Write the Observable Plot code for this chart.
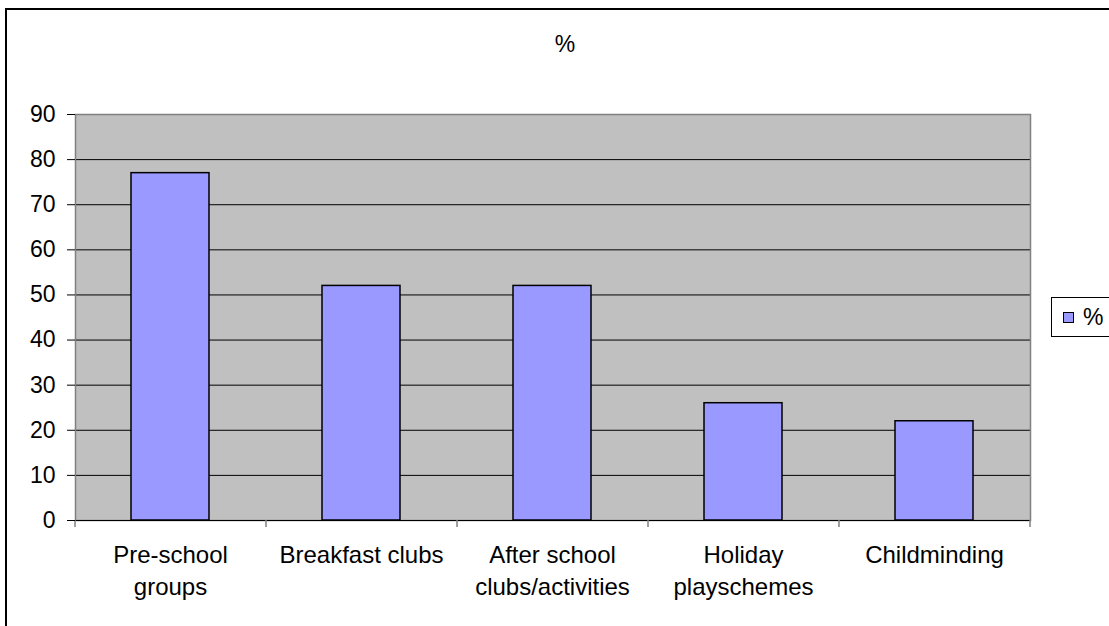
<!DOCTYPE html>
<html>
<head>
<meta charset="utf-8">
<script src="https://cdn.jsdelivr.net/npm/d3@7"></script>
<script src="https://cdn.jsdelivr.net/npm/@observablehq/plot@0.6"></script>
<style>
  html, body { margin: 0; padding: 0; background: #fff; }
  #wrap { position: relative; width: 1109px; height: 626px; overflow: hidden; font-family: "Liberation Sans", Arial, sans-serif; }
  #outer { position: absolute; left: 5px; top: 8px; width: 1200px; height: 700px; border-left: 2px solid #000; border-top: 2px solid #000; box-sizing: border-box; }
  #title { position: absolute; left: 525px; top: 31px; width: 80px; text-align: center; font-size: 23px; }
  #legend { position: absolute; left: 1051px; top: 297px; width: 80px; height: 40px; border: 1px solid #000; box-sizing: border-box; background: #fff; }
  #legend .sw { position: absolute; left: 11px; top: 14px; width: 11px; height: 11px; border: 1px solid #000; background: #9999ff; box-sizing: border-box; }
  #legend .lb { position: absolute; left: 31px; top: 6px; font-size: 23px; line-height: 26px; }
  #chart { position: absolute; left: 0; top: 0; }
</style>
</head>
<body>
<div id="wrap">
  <div id="outer"></div>
  <div id="chart"></div>
  <div id="title"></div>
  <div id="legend"><div class="sw"></div><div class="lb"></div></div>
</div>
<script>
const categories = ["Pre-school\ngroups", "Breakfast clubs", "After school\nclubs/activities", "Holiday\nplayschemes", "Childminding"];
const values = [77, 52, 52, 26, 22];
const yTicks = [0, 10, 20, 30, 40, 50, 60, 70, 80, 90];
const seriesName = "%";
const chartTitle = "%";

const data = categories.map((c, i) => ({cat: c, value: values[i]}));

const W = 1109, H = 626, ML = 75, MR = 79, MT = 114, MB = 106;
const plotW = W - ML - MR, plotH = H - MT - MB;
const step = plotW / categories.length;

const chart = Plot.plot({
  width: W, height: H,
  marginLeft: ML, marginRight: MR, marginTop: MT, marginBottom: MB,
  style: {fontFamily: "Liberation Sans, Arial, sans-serif", fontSize: "23px", color: "#000", background: "transparent", overflow: "visible"},
  x: {domain: categories, paddingInner: 0.59, paddingOuter: 0.295, label: null},
  y: {domain: [0, 90], label: null},
  marks: [
    Plot.frame({fill: "#c0c0c0", stroke: null}),
    Plot.ruleY(yTicks.slice(1, -1), {stroke: "#000", strokeWidth: 1}),
    Plot.frame({stroke: "#808080", strokeWidth: 1.5}),
    Plot.ruleY([0], {stroke: "#000", strokeWidth: 1}),
    Plot.barY(data, {x: "cat", y: "value", fill: "#9999ff", stroke: "#000", strokeWidth: 1.5}),
    Plot.ruleX(categories, {x: d => d, dx: -step / 2, insetTop: plotH, insetBottom: -7, stroke: "#808080", strokeWidth: 1.5}),
    Plot.ruleX(categories.slice(-1), {x: d => d, dx: step / 2, insetTop: plotH, insetBottom: -7, stroke: "#808080", strokeWidth: 1.5}),
    Plot.axisY({ticks: yTicks, tickSize: 8, tickPadding: 12, tickFormat: d => String(d), fontSize: 23}),
    Plot.axisX({tickSize: 0, tickPadding: 20, lineHeight: 1.33, fontSize: 24})
  ]
});
document.getElementById("chart").appendChild(chart);
document.getElementById("title").textContent = chartTitle;
document.querySelector("#legend .lb").textContent = seriesName;
</script>
</body>
</html>
